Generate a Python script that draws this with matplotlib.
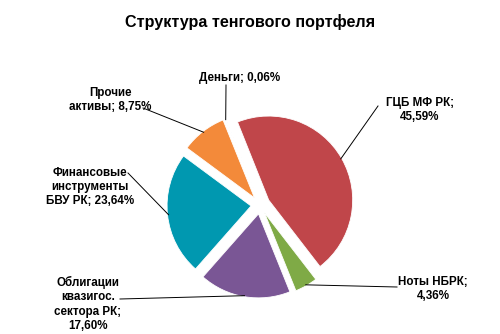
import numpy as np
import matplotlib
matplotlib.use("Agg")
import matplotlib.pyplot as plt

plt.rcParams["font.family"] = ["Liberation Sans", "DejaVu Sans"]

# Portfolio structure, % (clockwise order)
labels = ["Деньги", "ГЦБ МФ РК", "Ноты НБРК", "Облигации\nквазигос.\nсектора РК",
          "Финансовые\nинструменты\nБВУ РК", "Прочие\nактивы"]
shares = [0.06, 45.59, 4.36, 17.60, 23.64, 8.75]
label_texts = ["Деньги; 0,06%", "ГЦБ МФ РК;\n45,59%", "Ноты НБРК;\n4,36%",
               "Облигации\nквазигос.\nсектора РК;\n17,60%",
               "Финансовые\nинструменты\nБВУ РК; 23,64%", "Прочие\nактивы; 8,75%"]
colors = ["#8DB3E2", "#C0464A", "#7FAA46", "#7A5695", "#0098B0", "#F38A3A"]

W, H = 500, 334
cx, cy, R = 260, H - 205, 84
# slice offsets from the centre, pixels
explode = [9, 10, 9, 9, 9, 9]

# label centres and the point where each leader line leaves the label (pixels from top-left)
label_pos = [(240, 78), (420, 110), (433, 289), (88, 304), (90, 187), (110, 100)]
line_start = [(226, 85), (378, 106), (397, 287), (120, 299), (128, 173), (143, 108)]

fig = plt.figure(figsize=(W / 100, H / 100), dpi=100)
ax = fig.add_axes([0, 0, 1, 1])

wedges, _ = ax.pie(shares, colors=colors, startangle=112, counterclock=False,
                   explode=explode, center=(cx, cy), radius=R, frame=True,
                   wedgeprops=dict(edgecolor="white", linewidth=0.6))
ax.set_xlim(0, W)
ax.set_ylim(0, H)
ax.set_aspect("equal")
ax.axis("off")

for w, ex, txt, (lx, ly), (sx, sy) in zip(wedges, explode, label_texts, label_pos, line_start):
    mid = np.deg2rad((w.theta1 + w.theta2) / 2)
    px = cx + (R + ex - 1) * np.cos(mid)
    py = cy + (R + ex - 1) * np.sin(mid)
    ax.plot([sx, px], [H - sy, py], color="black", linewidth=0.7)
    ax.text(lx, H - ly, txt, ha="center", va="center", fontsize=8.4,
            fontweight="bold", linespacing=1.25)

fig.text(0.5, 1 - 22 / H, "Структура тенгового портфеля", ha="center", va="center",
         fontsize=11.6, fontweight="bold")

fig.savefig("out.png", dpi=100, facecolor="white")
